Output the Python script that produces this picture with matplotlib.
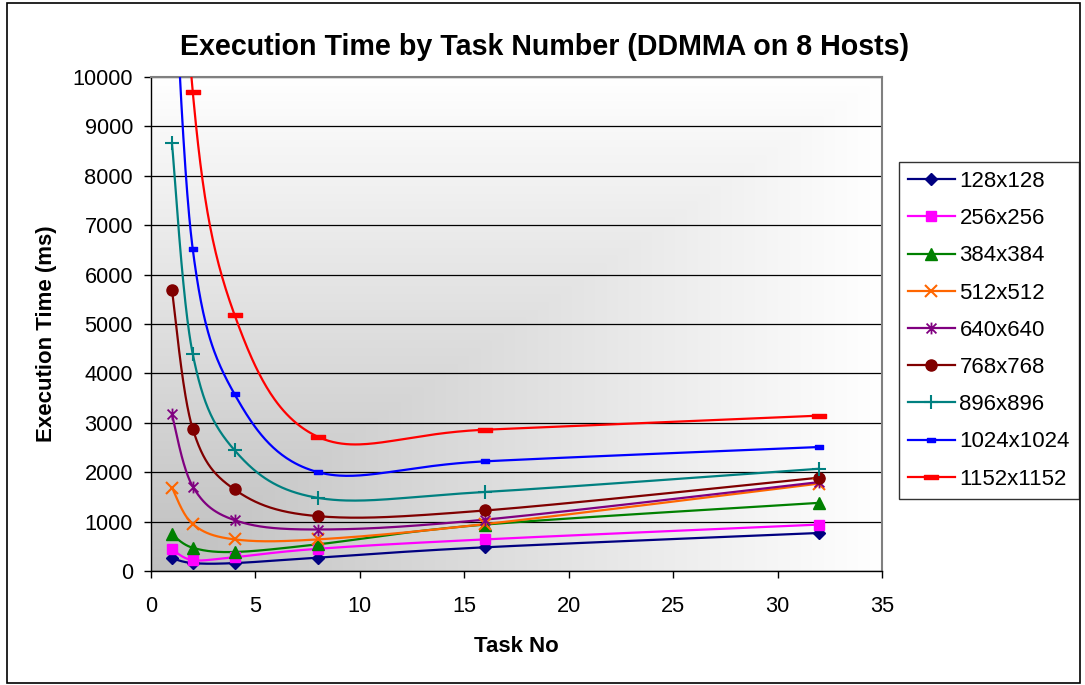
import numpy as np
import matplotlib
matplotlib.use("Agg")
import matplotlib.pyplot as plt
from matplotlib.path import Path
from matplotlib.patches import Rectangle

plt.rcParams['font.family'] = ['Liberation Sans', 'DejaVu Sans']

# ---------------- data ----------------
task_no = [1, 2, 4, 8, 16, 32]
labels = ["128x128", "256x256", "384x384", "512x512", "640x640",
          "768x768", "896x896", "1024x1024", "1152x1152"]
s128 = [256, 160, 160, 270, 480, 770]
s256 = [440, 220, 280, 450, 640, 940]
s384 = [740, 470, 385, 540, 940, 1380]
s512 = [1690, 950, 640, 640, 950, 1770]
s640 = [3170, 1710, 1030, 840, 1040, 1800]
s768 = [5690, 2875, 1650, 1110, 1225, 1890]
s896 = [8670, 4390, 2445, 1480, 1600, 2070]
s1024 = [13300, 6510, 3580, 2000, 2220, 2510]
s1152 = [19000, 9695, 5185, 2715, 2860, 3145]
series = [s128, s256, s384, s512, s640, s768, s896, s1024, s1152]
x_ticks = [0, 5, 10, 15, 20, 25, 30, 35]
y_ticks = list(range(0, 10001, 1000))

# ---------------- styles ----------------
star = Path([(-1, -1), (1, 1), (-1, 1), (1, -1), (0, -1.2), (0, 1.2)],
            [Path.MOVETO, Path.LINETO, Path.MOVETO, Path.LINETO, Path.MOVETO, Path.LINETO])
dash_red = Path([(-1, -0.32), (1, -0.32), (1, 0.32), (-1, 0.32), (-1, -0.32)],
                [Path.MOVETO, Path.LINETO, Path.LINETO, Path.LINETO, Path.CLOSEPOLY])
dash_blue = Path([(-1, -0.5), (1, -0.5), (1, 0.5), (-1, 0.5), (-1, -0.5)],
                 [Path.MOVETO, Path.LINETO, Path.LINETO, Path.LINETO, Path.CLOSEPOLY])

styles = [
    dict(color='#000080', marker='D', ms=6),
    dict(color='#FF00FF', marker='s', ms=7.5),
    dict(color='#008000', marker='^', ms=8.5),
    dict(color='#FF6600', marker='x', ms=8, mew=1.5),
    dict(color='#800080', marker=star, ms=8.5, mew=1.3),
    dict(color='#800000', marker='o', ms=8),
    dict(color='#008080', marker='+', ms=10, mew=1.5),
    dict(color='#0000FF', marker=dash_blue, ms=5.5),
    dict(color='#FF0000', marker=dash_red, ms=9.5),
]


def smooth(xs, ys, n=60):
    """Excel-like smoothed line: cubic Bezier through the points (Catmull-Rom)."""
    P = np.column_stack([xs, ys]).astype(float)
    m = len(P)
    outx, outy = [], []
    for i in range(m - 1):
        p0 = P[i - 1] if i > 0 else P[i]
        p1 = P[i]
        p2 = P[i + 1]
        p3 = P[i + 2] if i + 2 < m else P[i + 1]
        c1 = p1 + (p2 - p0) / 6.0
        c2 = p2 - (p3 - p1) / 6.0
        t = np.linspace(0, 1, n)[:, None]
        b = ((1 - t) ** 3) * p1 + 3 * ((1 - t) ** 2) * t * c1 + 3 * (1 - t) * t ** 2 * c2 + t ** 3 * p2
        if i > 0:
            b = b[1:]
        outx.extend(b[:, 0]); outy.extend(b[:, 1])
    return np.array(outx), np.array(outy)


W, H = 1085, 685
fig = plt.figure(figsize=(W / 100, H / 100), dpi=100)

# axes placement (pixels)
L, R, T, B = 151, 882, 77, 571
ax = fig.add_axes([L / W, 1 - B / H, (R - L) / W, (B - T) / H])

# gradient background (from lower-left corner)
gx, gy = np.meshgrid(np.linspace(0, 1, 400), np.linspace(0, 1, 300))
tt = np.maximum(gx, gy)
g = 0.75 + 0.25 * tt
img = np.dstack([g, g, g])
ax.imshow(img, extent=[0, 1, 0, 1], transform=ax.transAxes, origin='lower',
          aspect='auto', zorder=0, interpolation='bilinear')

handles = []
for ys, lab, st in zip(series, labels, styles):
    sx, sy = smooth(task_no, ys)
    ax.plot(sx, sy, color=st['color'], lw=1.6, zorder=3, solid_capstyle='round')
    ax.plot(task_no, ys, linestyle='none', marker=st['marker'], ms=st['ms'],
            mew=st.get('mew', 1.0), color=st['color'], mfc=st['color'], mec=st['color'], zorder=4)
    h, = plt.plot([], [], color=st['color'], lw=1.6, marker=st['marker'], ms=st['ms'],
                  mew=st.get('mew', 1.0), mfc=st['color'], mec=st['color'])
    handles.append(h)

ax.set_xlim(0, 35)
ax.set_ylim(0, 10000)
ax.set_xticks(x_ticks)
ax.set_yticks(y_ticks)
ax.set_xticklabels([str(v) for v in x_ticks])
ax.set_yticklabels([str(v) for v in y_ticks])
ax.tick_params(axis='both', direction='out', length=5, width=1, color='black',
               labelsize=15.7)
ax.tick_params(axis='x', pad=13)
ax.tick_params(axis='y', pad=8)
ax.grid(axis='y', color='black', lw=0.9, zorder=1)
ax.set_axisbelow(True)
for s in ['top', 'right']:
    ax.spines[s].set_color('#808080')
    ax.spines[s].set_linewidth(1.5)
for s in ['left', 'bottom']:
    ax.spines[s].set_color('black')
    ax.spines[s].set_linewidth(1.0)

fig.text(544 / W, 1 - 47 / H, "Execution Time by Task Number (DDMMA on 8 Hosts)",
         ha='center', va='center', fontsize=20.6, fontweight='bold')
fig.text(516 / W, 1 - 647 / H, "Task No", ha='center', va='center',
         fontsize=16, fontweight='bold')
fig.text(47 / W, 1 - 334 / H, "Execution Time (ms)", ha='center', va='center',
         rotation=90, fontsize=16, fontweight='bold')

leg = fig.legend(handles=handles, labels=labels, loc='upper left',
                 bbox_to_anchor=(899 / W, 1 - 162 / H), borderaxespad=0,
                 fontsize=16, frameon=True, fancybox=False, edgecolor='black',
                 handlelength=2.1, handletextpad=0.22, labelspacing=0.73,
                 borderpad=0.4)
leg.get_frame().set_linewidth(1.0)

# outer chart border
fig.patches.append(Rectangle((7 / W, 2 / H), (1080 - 7) / W, (682 - 2) / H,
                             transform=fig.transFigure, fill=False,
                             edgecolor='black', lw=1.2))

fig.savefig("out.png", dpi=100)
